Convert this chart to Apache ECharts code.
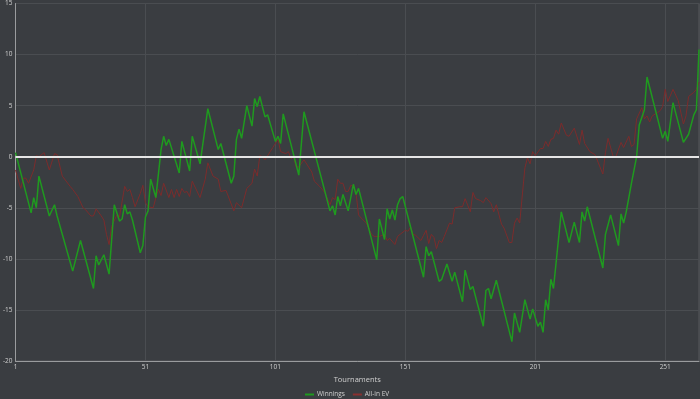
<!DOCTYPE html>
<html>
<head>
<meta charset="utf-8">
<script src="https://cdn.jsdelivr.net/npm/echarts@6/dist/echarts.min.js"></script>
<style>
  html, body { margin: 0; padding: 0; background: #3a3d41; }
  #chart { width: 700px; height: 399px; }
</style>
</head>
<body>
<div id="chart"></div>
<script>
// Winnings (vertices: tournament no. / value)
var winT = [1, 7, 8, 9, 10, 14, 16, 17, 23, 26, 31, 32, 33, 35, 37, 39, 41, 42, 43, 44, 45, 46, 49, 50,
  51, 52, 53, 55, 57, 58, 59, 60, 64, 65, 68, 69, 72, 75, 79, 80, 84, 85, 86, 87, 88, 90, 92, 93, 94, 95,
  97, 98, 101, 102, 103, 104, 110, 112, 122, 123, 124, 125, 126, 127, 129, 131, 132, 133, 140, 141, 143,
  144, 145, 146, 147, 148, 149, 150, 158, 159, 160, 161, 164, 165, 167, 169, 170, 173, 174, 176, 177, 181,
  182, 183, 184, 186, 192, 193, 195, 197, 199, 200, 202, 203, 204, 205, 206, 207, 208, 211, 214, 216, 218,
  219, 220, 221, 227, 228, 230, 233, 234, 235, 236, 238, 240, 241, 243, 244, 250, 251, 252, 254, 258, 260,
  262, 263, 264]
var winV = [0.4, -5.5, -4.0, -5.0, -1.9, -5.8, -4.7, -5.8, -11.2, -8.2, -12.9, -9.7, -10.6, -9.6, -11.5,
  -4.7, -6.3, -6.1, -4.7, -5.6, -5.4, -6.2, -9.4, -8.7, -5.9, -5.3, -2.2, -4.0, 0.7, 2.0, 1.1, 1.7, -1.6,
  1.5, -1.4, 2.0, -0.7, 4.7, 0.7, 1.3, -2.6, -1.9, 1.7, 2.7, 1.8, 5.0, 3.0, 5.7, 4.9, 5.9, 3.9, 4.1, 1.5,
  2.0, 1.3, 4.2, -1.8, 4.4, -5.3, -4.8, -5.7, -3.9, -4.8, -3.7, -5.3, -2.7, -3.7, -3.1, -10.1, -6.1, -8.1,
  -5.1, -6.1, -5.2, -6.2, -4.7, -4.1, -3.9, -11.8, -8.8, -9.7, -9.3, -12.2, -12.0, -10.5, -12.2, -11.3,
  -14.2, -11.1, -13.0, -12.7, -16.6, -13.1, -12.9, -13.9, -12.1, -18.1, -15.3, -17.2, -14.0, -15.9, -14.9,
  -16.6, -16.2, -17.2, -14.0, -15.0, -12.0, -12.9, -5.4, -8.4, -6.4, -8.4, -5.4, -6.3, -4.9, -10.9, -7.6,
  -5.7, -8.7, -5.6, -6.5, -5.4, -2.6, 0.0, 3.1, 4.6, 7.8, 1.8, 2.5, 1.5, 5.3, 1.4, 2.2, 4.1, 4.6, 10.5]

// All-in EV
var evT = [1, 3, 4, 5, 6, 8, 9, 10, 12, 14, 16, 17, 19, 22, 23, 25, 27, 28, 30, 31, 32, 34, 35, 36, 37,
  38, 40, 41, 43, 44, 45, 46, 47, 49, 50, 51, 52, 54, 55, 56, 57, 58, 60, 61, 62, 63, 64, 65, 66, 67, 68,
  69, 72, 74, 75, 77, 79, 80, 82, 85, 86, 88, 90, 92, 93, 94, 95, 96, 97, 99, 100, 102, 103, 105, 106, 107,
  108, 109, 110, 112, 114, 115, 116, 118, 120, 122, 123, 124, 125, 126, 127, 128, 129, 130, 131, 132, 133,
  134, 136, 138, 139, 141, 143, 144, 145, 147, 148, 149, 151, 152, 153, 154, 155, 157, 158, 159, 160, 161,
  162, 163, 164, 165, 166, 168, 169, 170, 172, 173, 174, 176, 177, 178, 180, 181, 182, 184, 185, 186, 188,
  189, 191, 192, 193, 194, 195, 197, 198, 199, 200, 201, 203, 204, 205, 206, 207, 208, 209, 210, 211, 213,
  214, 216, 218, 219, 220, 222, 224, 227, 228, 229, 231, 232, 234, 235, 237, 238, 239, 240, 242, 243, 244,
  245, 246, 248, 249, 250, 251, 252, 254, 256, 258, 259, 260, 262, 263, 264]
var evV = [-1.3, -3.1, -2.1, -2.1, -2.6, -1.3, 0.1, 0.0, 0.4, -1.3, 0.3, 0.2, -1.9, -2.9, -3.2, -3.9,
  -5.0, -5.2, -5.8, -5.8, -5.1, -5.8, -6.2, -7.6, -8.6, -6.8, -5.7, -5.9, -2.9, -3.4, -3.2, -4.0, -4.9,
  -3.6, -2.8, -4.5, -4.9, -5.0, -4.0, -3.2, -3.8, -2.6, -4.0, -3.2, -4.0, -3.2, -3.9, -3.1, -3.5, -3.4,
  -3.9, -2.4, -4.0, -2.2, -0.6, -1.9, -2.2, -3.4, -3.3, -5.3, -4.5, -5.0, -3.1, -2.6, -1.2, -1.9, 0.1, 0.0,
  -0.3, 0.5, 0.9, 1.7, 0.5, 0.3, 0.5, -0.2, 0.0, -1.0, -1.0, -0.3, -1.1, -1.5, -2.4, -2.9, -3.5, -4.7,
  -4.0, -4.2, -2.2, -2.6, -2.6, -3.4, -3.4, -2.8, -2.9, -3.5, -5.7, -6.0, -6.5, -7.6, -7.8, -7.8, -7.6,
  -8.2, -8.0, -8.6, -7.8, -7.6, -7.2, -7.3, -6.9, -7.6, -7.7, -8.2, -7.7, -7.2, -8.5, -7.6, -7.9, -9.0,
  -8.2, -8.4, -7.8, -6.5, -6.6, -5.0, -4.9, -4.9, -4.1, -5.4, -3.5, -4.1, -4.3, -4.5, -4.0, -4.6, -5.4,
  -4.7, -6.6, -7.0, -8.4, -8.4, -6.5, -6.0, -6.5, -1.1, -0.1, -0.7, 0.5, 0.1, 0.8, 0.8, 1.5, 1.0, 1.7,
  1.8, 2.6, 2.2, 3.3, 2.1, 2.0, 2.8, 1.2, 2.6, 1.3, 0.5, 0.2, -1.7, 0.4, 1.8, 0.0, 0.0, 1.4, 0.9, 2.0,
  1.0, 1.2, 3.7, 4.8, 3.7, 4.0, 3.4, 4.0, 4.3, 4.5, 4.9, 6.6, 5.4, 6.6, 5.5, 3.2, 4.0, 5.9, 6.3, 6.6, 7.3]

var xTicks = { min: 1, max: 264, step: 50 }
var yTicks = { min: -20, max: 15, step: 5 }

function zip(xs, ys) {
  return xs.map(function (x, i) { return [x, ys[i]] })
}

var chart = echarts.init(document.getElementById('chart'))
var textColor = '#d0d0d0'
var option = {
  backgroundColor: '#3a3d41',
  animation: false,
  textStyle: { fontFamily: 'Open Sans' },
  grid: {
    left: 12, right: 1, top: 3, bottom: 38,
    show: true,
    borderColor: '#56595d',
    borderWidth: 1
  },
  legend: {
    data: ['Winnings', 'All-in EV'],
    left: 300,
    top: 386,
    icon: 'rect',
    itemWidth: 9,
    itemHeight: 2,
    itemGap: 8,
    textStyle: { color: textColor, fontSize: 6.5, padding: [0, 0, 0, -2] }
  },
  xAxis: {
    type: 'value',
    min: xTicks.min,
    max: xTicks.max,
    interval: xTicks.step,
    name: 'Tournaments',
    nameLocation: 'middle',
    nameGap: 13,
    nameTextStyle: { color: textColor, fontSize: 7.5 },
    axisLine: { show: true, onZero: false, lineStyle: { color: '#9a9c9e' } },
    axisTick: { show: false },
    axisLabel: { color: textColor, fontSize: 6.5, margin: 3, showMaxLabel: false },
    splitLine: { show: true, lineStyle: { color: '#4a4d51' } }
  },
  yAxis: {
    type: 'value',
    min: yTicks.min,
    max: yTicks.max,
    interval: yTicks.step,
    axisLine: { show: true, lineStyle: { color: '#9a9c9e' } },
    axisTick: { show: false },
    axisLabel: { color: textColor, fontSize: 6.5, margin: 3 },
    splitLine: { show: true, lineStyle: { color: '#4a4d51' } }
  },
  series: [
    {
      name: 'Winnings',
      type: 'line',
      data: zip(winT, winV),
      showSymbol: false,
      lineStyle: { color: '#1f9a1f', width: 1.5 },
      itemStyle: { color: '#1f9a1f' },
      z: 3,
      markLine: {
        silent: true,
        symbol: 'none',
        label: { show: false },
        lineStyle: { color: '#e6e6e6', width: 2, type: 'solid' },
        data: [{ yAxis: 0 }]
      }
    },
    {
      name: 'All-in EV',
      type: 'line',
      data: zip(evT, evV),
      showSymbol: false,
      lineStyle: { color: '#7c2c2c', width: 1 },
      itemStyle: { color: '#8a3030' },
      z: 2
    }
  ]
}
chart.setOption(option)
</script>
</body>
</html>
